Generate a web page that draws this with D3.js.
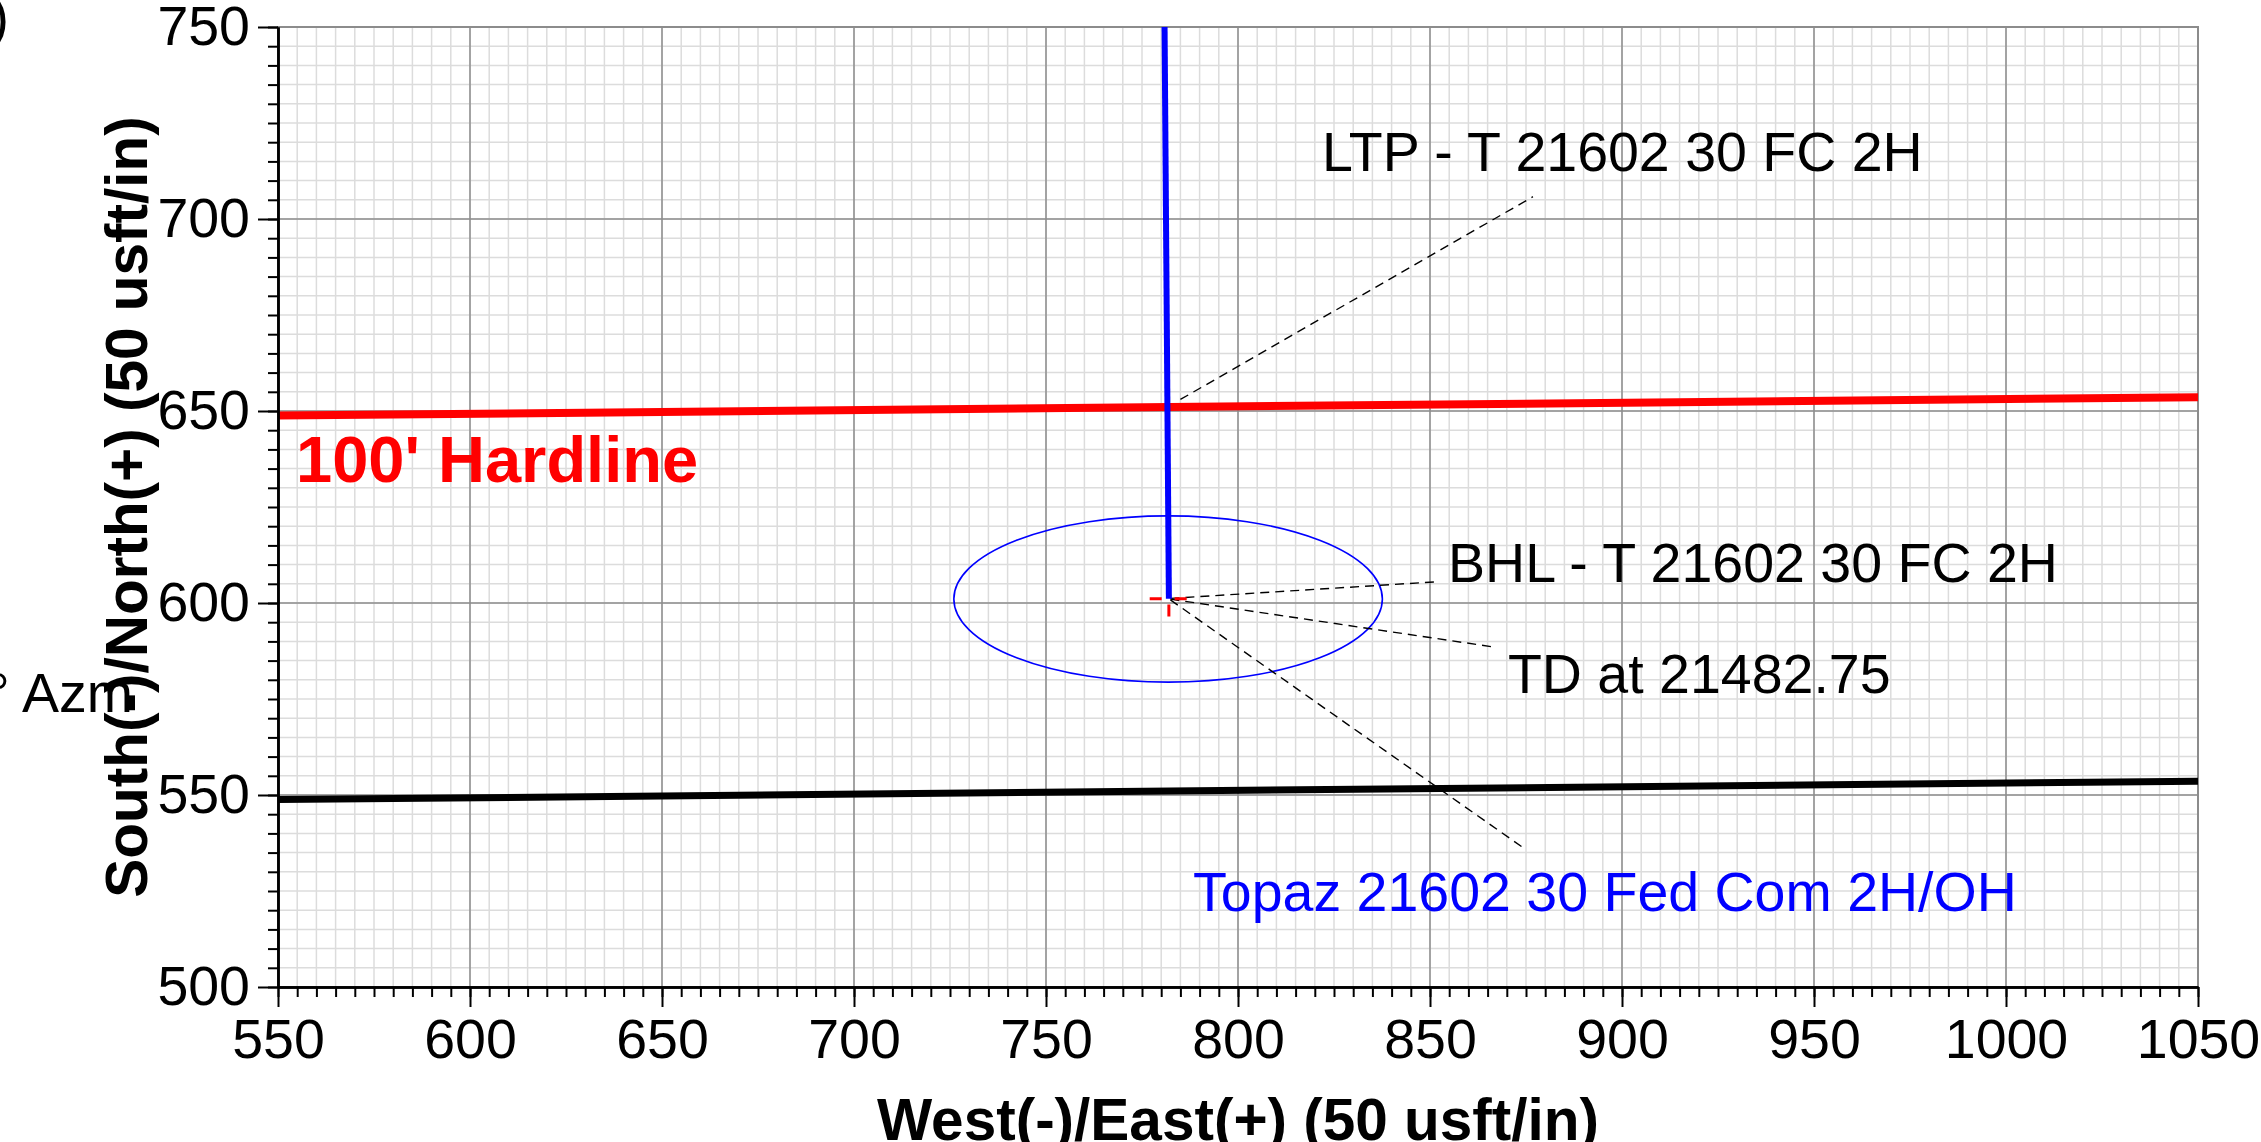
<!DOCTYPE html>
<html>
<head>
<meta charset="utf-8">
<script src="https://cdn.jsdelivr.net/npm/d3@7"></script>
<style>
    body { margin: 0; background: #ffffff; }
    svg { display: block; font-family: "Liberation Sans", Arial, sans-serif; }
</style>
</head>
<body>
<div id="planChart"></div>
<script>
// Tick labels for both axes (usft)
var eastTicks = [550, 600, 650, 700, 750, 800, 850, 900, 950, 1000, 1050];
var northTicks = [500, 550, 600, 650, 700, 750];

// Well path (East, North)
var wellPath = [
    { e: 780.8, n: 760 },
    { e: 782.0, n: 601.1 }
];

// 100' hardline and lease line
var hardline = [
    { e: 550, n: 648.8 },
    { e: 1050, n: 653.6 }
];
var leaseLine = [
    { e: 550, n: 548.8 },
    { e: 1050, n: 553.6 }
];

// Uncertainty ellipse around the bottom hole
var ellipseCenter = { e: 781.8, n: 601.05 };
var ellipseRadius = { e: 55.8, n: 21.65 };

// Bottom hole marker
var bhlPoint = { e: 782.0, n: 601.1 };

// Annotation leaders: from point, to point, text position
var annotations = [
    { label: "LTP - T 21602 30 FC 2H", from: { e: 785.0, n: 653.0 }, to: { e: 876.8, n: 705.8 }, text: { e: 821.9, n: 712.6 }, color: "#000000" },
    { label: "BHL - T 21602 30 FC 2H", from: { e: 782.4, n: 601.2 }, to: { e: 851.3, n: 605.5 }, text: { e: 854.7, n: 605.5 }, color: "#000000" },
    { label: "TD at 21482.75", from: { e: 782.4, n: 601.0 }, to: { e: 866.9, n: 588.5 }, text: { e: 870.3, n: 576.6 }, color: "#000000" },
    { label: "Topaz 21602 30 Fed Com 2H/OH", from: { e: 782.4, n: 600.8 }, to: { e: 874.8, n: 535.9 }, text: { e: 788.3, n: 519.7 }, color: "#0000ff" }
];

var hardlineLabel = { label: "100' Hardline", e: 554.7, n: 631.6 };

// Setting chart parameters
var properties = {
    width: 2261,
    height: 1142,
    margin: { top: 27, right: 63, bottom: 155, left: 278 }
};

// Calculating chart dimensions
var chartDimensions = {
    width: properties.width - properties.margin.left - properties.margin.right,
    height: properties.height - properties.margin.top - properties.margin.bottom
};

var svg = d3.select("#planChart")
    .append("svg")
    .attr("width", properties.width)
    .attr("height", properties.height);

var chartContent = svg.append("g")
    .attr("transform", "translate(" + properties.margin.left + "," + properties.margin.top + ")");

// Scales
var xScale = d3.scaleLinear().domain([550, 1050]).range([0, chartDimensions.width]);
var yScale = d3.scaleLinear().domain([500, 750]).range([chartDimensions.height, 0]);

// Clip for data marks
svg.append("defs").append("clipPath").attr("id", "plotClip")
    .append("rect")
    .attr("width", chartDimensions.width)
    .attr("height", chartDimensions.height);

var minorEast = d3.range(550, 1050.01, 5);
var minorNorth = d3.range(500, 750.01, 5);

// Minor grid
var grid = chartContent.append("g").attr("class", "grid");
grid.selectAll(".minor-v").data(minorEast).enter().append("line")
    .attr("x1", function (d) { return xScale(d); })
    .attr("x2", function (d) { return xScale(d); })
    .attr("y1", 0).attr("y2", chartDimensions.height)
    .attr("stroke", "#dcdcdc").attr("stroke-width", 1.5);
grid.selectAll(".minor-h").data(minorNorth).enter().append("line")
    .attr("y1", function (d) { return yScale(d); })
    .attr("y2", function (d) { return yScale(d); })
    .attr("x1", 0).attr("x2", chartDimensions.width)
    .attr("stroke", "#dcdcdc").attr("stroke-width", 1.5);

// Major grid
grid.selectAll(".major-v").data(eastTicks).enter().append("line")
    .attr("x1", function (d) { return xScale(d); })
    .attr("x2", function (d) { return xScale(d); })
    .attr("y1", 0).attr("y2", chartDimensions.height)
    .attr("stroke", "#8c8c8c").attr("stroke-width", 1.5);
grid.selectAll(".major-h").data(northTicks).enter().append("line")
    .attr("y1", function (d) { return yScale(d); })
    .attr("y2", function (d) { return yScale(d); })
    .attr("x1", 0).attr("x2", chartDimensions.width)
    .attr("stroke", "#8c8c8c").attr("stroke-width", 1.5);

// Plot border
chartContent.append("rect")
    .attr("width", chartDimensions.width)
    .attr("height", chartDimensions.height)
    .attr("fill", "none")
    .attr("stroke", "#8c8c8c")
    .attr("stroke-width", 2);

var marks = chartContent.append("g").attr("clip-path", "url(#plotClip)");

var line = d3.line()
    .x(function (d) { return xScale(d.e); })
    .y(function (d) { return yScale(d.n); });

// Uncertainty ellipse
marks.append("ellipse")
    .attr("cx", xScale(ellipseCenter.e))
    .attr("cy", yScale(ellipseCenter.n))
    .attr("rx", xScale(ellipseCenter.e + ellipseRadius.e) - xScale(ellipseCenter.e))
    .attr("ry", yScale(ellipseCenter.n) - yScale(ellipseCenter.n + ellipseRadius.n))
    .attr("fill", "none")
    .attr("stroke", "#0000ff")
    .attr("stroke-width", 1.6);

// Leader lines
marks.selectAll(".leader").data(annotations).enter().append("line")
    .attr("x1", function (d) { return xScale(d.from.e); })
    .attr("y1", function (d) { return yScale(d.from.n); })
    .attr("x2", function (d) { return xScale(d.to.e); })
    .attr("y2", function (d) { return yScale(d.to.n); })
    .attr("stroke", "#000000")
    .attr("stroke-width", 1.4)
    .attr("stroke-dasharray", "9,6");

// Lease line and hardline
marks.append("path").datum(leaseLine)
    .attr("d", line).attr("fill", "none")
    .attr("stroke", "#000000").attr("stroke-width", 7);
marks.append("path").datum(hardline)
    .attr("d", line).attr("fill", "none")
    .attr("stroke", "#ff0000").attr("stroke-width", 8);

// Bottom hole cross marker
var crossHalf = 5;
marks.append("line")
    .attr("x1", xScale(bhlPoint.e - crossHalf)).attr("x2", xScale(bhlPoint.e + crossHalf))
    .attr("y1", yScale(bhlPoint.n)).attr("y2", yScale(bhlPoint.n))
    .attr("stroke", "#ff0000").attr("stroke-width", 3).attr("stroke-dasharray", "12,13");
marks.append("line")
    .attr("x1", xScale(bhlPoint.e)).attr("x2", xScale(bhlPoint.e))
    .attr("y1", yScale(bhlPoint.n + crossHalf)).attr("y2", yScale(bhlPoint.n - crossHalf))
    .attr("stroke", "#ff0000").attr("stroke-width", 3).attr("stroke-dasharray", "12,13");

// Well path
marks.append("path").datum(wellPath)
    .attr("d", line).attr("fill", "none")
    .attr("stroke", "#0000ff").attr("stroke-width", 6);

// Annotation texts
chartContent.selectAll(".annotation").data(annotations).enter().append("text")
    .attr("x", function (d) { return xScale(d.text.e); })
    .attr("y", function (d) { return yScale(d.text.n); })
    .attr("font-size", 55.5)
    .attr("fill", function (d) { return d.color; })
    .text(function (d) { return d.label; });

chartContent.append("text")
    .attr("x", xScale(hardlineLabel.e))
    .attr("y", yScale(hardlineLabel.n))
    .attr("font-size", 65)
    .attr("font-weight", "bold")
    .attr("fill", "#ff0000")
    .text(hardlineLabel.label);

// Axes: minor ticks first, then major ticks with labels
function styleAxis(g) {
    g.selectAll("path").attr("stroke", "#000000").attr("stroke-width", 2.5);
    g.selectAll("line").attr("stroke", "#000000").attr("stroke-width", 2);
    g.selectAll("text").attr("font-size", 55.5).attr("fill", "#000000")
        .attr("font-family", "'Liberation Sans', Arial, sans-serif");
}

chartContent.append("g")
    .attr("transform", "translate(0," + chartDimensions.height + ")")
    .call(d3.axisBottom(xScale).tickValues(minorEast).tickSize(10).tickSizeOuter(0).tickFormat(""))
    .call(styleAxis);
chartContent.append("g")
    .attr("transform", "translate(0," + chartDimensions.height + ")")
    .call(d3.axisBottom(xScale).tickValues(eastTicks).tickSize(20).tickSizeOuter(0).tickPadding(12).tickFormat(d3.format("d")))
    .call(styleAxis);

chartContent.append("g")
    .call(d3.axisLeft(yScale).tickValues(minorNorth).tickSize(10).tickSizeOuter(0).tickFormat(""))
    .call(styleAxis);
chartContent.append("g")
    .call(d3.axisLeft(yScale).tickValues(northTicks).tickSize(20).tickSizeOuter(0).tickPadding(8).tickFormat(d3.format("d")))
    .call(styleAxis);

// Axis titles
svg.append("text")
    .attr("x", properties.margin.left + chartDimensions.width / 2)
    .attr("y", 1140)
    .attr("text-anchor", "middle")
    .attr("font-size", 58.5)
    .attr("font-weight", "bold")
    .text("West(-)/East(+) (50 usft/in)");

svg.append("text")
    .attr("transform", "translate(147," + (properties.margin.top + chartDimensions.height / 2) + ") rotate(-90)")
    .attr("text-anchor", "middle")
    .attr("font-size", 58.5)
    .attr("font-weight", "bold")
    .text("South(-)/North(+) (50 usft/in)");

// Fragments of text cut off at the left edge
svg.append("text")
    .attr("x", 133).attr("y", 712)
    .attr("text-anchor", "end")
    .attr("font-size", 55.5)
    .text("° Azm");
svg.append("text")
    .attr("x", 9).attr("y", 36)
    .attr("text-anchor", "end")
    .attr("font-size", 55.5)
    .text(")");
</script>
</body>
</html>
